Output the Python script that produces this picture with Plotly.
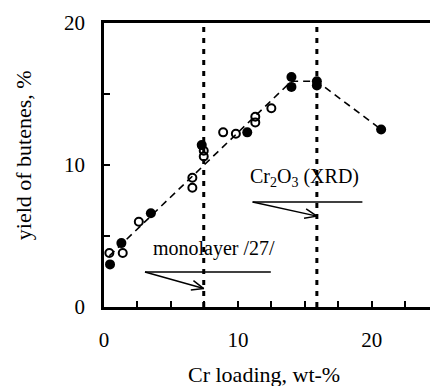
import numpy as np
import plotly.graph_objects as go

# ---- data ----
filled_x = [0.45, 1.3, 3.5, 7.3, 10.7, 14.0, 14.0, 15.9, 15.9, 20.7]
filled_y = [3.0, 4.5, 6.6, 11.4, 12.3, 16.2, 15.5, 15.9, 15.6, 12.5]
open_x = [0.4, 1.4, 2.6, 6.6, 6.6, 7.45, 7.45, 8.9, 9.85, 11.3, 11.3, 12.5]
open_y = [3.8, 3.8, 6.0, 9.1, 8.4, 11.0, 10.6, 12.3, 12.2, 13.4, 13.0, 14.0]
trend_x = [0.4, 14.0, 15.9, 20.7]
trend_y = [3.6, 15.9, 15.9, 12.5]
marker_lines_x = [7.45, 15.9]
y_range = [0, 20]
x_range = [0, 24.35]
x_ticks = [0, 10, 20]
y_ticks = [0, 10, 20]

# annotation arrows: horizontal bar (x0, x1, y) and arrow (start -> tip)
mono_bar = (3.06, 12.46, 2.46)
mono_arrow = ((3.06, 2.46), (7.45, 1.3))
cr_bar = (11.1, 19.3, 7.4)
cr_arrow = ((11.1, 7.4), (15.9, 6.4))

W, H = 430, 386
L, R, T, B = 104, 0, 23, 79
pxx = (W - L - R) / (x_range[1] - x_range[0])
pxy = (H - T - B) / (y_range[1] - y_range[0])

fig = go.Figure()
serif = "Liberation Serif, Times New Roman, serif"

for xv in marker_lines_x:
    fig.add_trace(go.Scatter(x=[xv, xv], y=y_range, mode="lines",
                             line=dict(color="black", width=3, dash="5px,6px"),
                             hoverinfo="skip", showlegend=False))

fig.add_trace(go.Scatter(x=trend_x, y=trend_y, mode="lines",
                         line=dict(color="black", width=1.6, dash="7px,5px"),
                         showlegend=False))

fig.add_trace(go.Scatter(x=open_x, y=open_y, mode="markers",
                         marker=dict(symbol="circle-open", size=8, color="black",
                                     line=dict(width=2, color="black")),
                         showlegend=False))
fig.add_trace(go.Scatter(x=filled_x, y=filled_y, mode="markers",
                         marker=dict(symbol="circle", size=10, color="black"),
                         showlegend=False))


def arrow(bar, arr):
    x0, x1, yb = bar
    fig.add_trace(go.Scatter(x=[x0, x1], y=[yb, yb], mode="lines",
                             line=dict(color="black", width=1.5), showlegend=False))
    (sx, sy), (tx, ty) = arr
    fig.add_trace(go.Scatter(x=[sx, tx], y=[sy, ty], mode="lines",
                             line=dict(color="black", width=1.5), showlegend=False))
    # open V head, computed in pixel space
    dx, dy = (tx - sx) * pxx, (ty - sy) * pxy
    n = np.hypot(dx, dy)
    ux, uy = dx / n, dy / n
    hl = 13
    pts = []
    for ang in (np.radians(22), -np.radians(22)):
        c, s = np.cos(ang), np.sin(ang)
        bx = -(ux * c - uy * s) * hl
        by = -(ux * s + uy * c) * hl
        pts.append((tx + bx / pxx, ty + by / pxy))
    fig.add_trace(go.Scatter(x=[pts[0][0], tx, pts[1][0]], y=[pts[0][1], ty, pts[1][1]],
                             mode="lines", line=dict(color="black", width=1.5),
                             showlegend=False))


arrow(mono_bar, mono_arrow)
arrow(cr_bar, cr_arrow)

fig.add_annotation(x=8.2, y=4.1, text="monolayer /27/", showarrow=False,
                   xanchor="center", yanchor="middle",
                   font=dict(family=serif, size=20, color="black"))
fig.add_annotation(x=15.0, y=9.1, text="Cr<sub>2</sub>O<sub>3</sub> (XRD)", showarrow=False,
                   xanchor="center", yanchor="middle",
                   font=dict(family=serif, size=20, color="black"))

fig.add_annotation(xref="paper", yref="paper", x=0.49, y=-0.239, text="Cr loading, wt-%",
                   showarrow=False, xanchor="center", yanchor="middle",
                   font=dict(family=serif, size=22, color="black"))
fig.add_annotation(xref="paper", yref="paper", x=-0.248, y=0.535, text="yield of butenes, %",
                   showarrow=False, textangle=-90, xanchor="center", yanchor="middle",
                   font=dict(family=serif, size=22, color="black"))

axis_common = dict(showgrid=False, zeroline=False, showline=True, linecolor="black",
                   linewidth=2.5, ticks="inside", ticklen=6, tickwidth=2, tickcolor="black",
                   automargin=False,
                   tickfont=dict(family=serif, size=21, color="black"))
fig.update_xaxes(range=x_range, tickvals=x_ticks, mirror=True, ticklabelstandoff=12,
                 minor=dict(dtick=2.5, tick0=0, ticks="inside", ticklen=6, tickwidth=2,
                            tickcolor="black"),
                 **axis_common)
fig.update_yaxes(range=y_range, tickvals=y_ticks, ticklabelstandoff=12,
                 minor=dict(dtick=5, tick0=0, ticks="inside", ticklen=6, tickwidth=2,
                            tickcolor="black"),
                 **axis_common)

fig.update_layout(width=W, height=H, margin=dict(l=L, r=R, t=T, b=B),
                  plot_bgcolor="white", paper_bgcolor="white", showlegend=False)

fig.write_html("out.html", config={"displayModeBar": False},
               post_script="document.body.style.margin='0';document.body.style.overflow='hidden';")
